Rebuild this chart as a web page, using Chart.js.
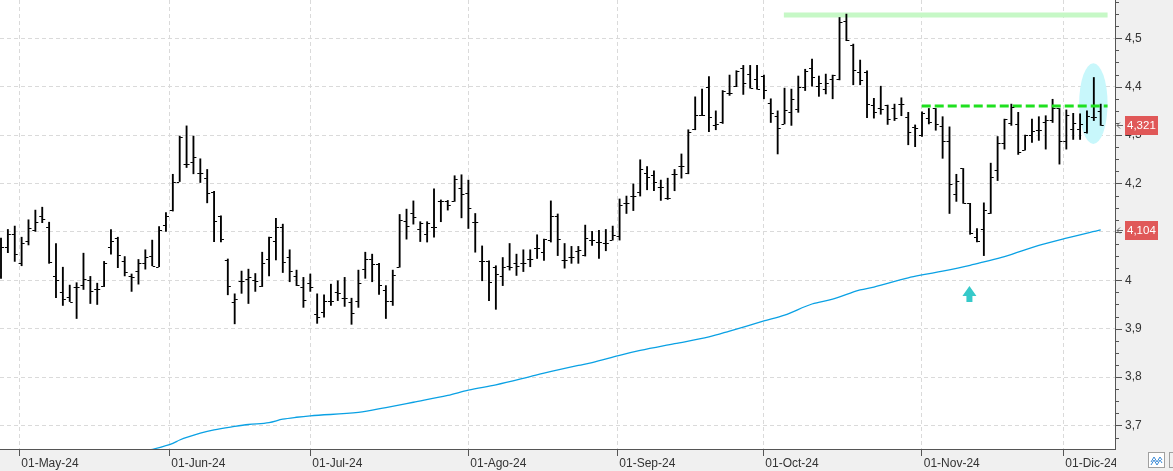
<!DOCTYPE html>
<html>
<head>
<meta charset="utf-8">
<script src="https://cdn.jsdelivr.net/npm/chart.js@4.4.1/dist/chart.umd.min.js"></script>
<style>
  html, body { margin: 0; padding: 0; background: #fff; }
  #wrap { width: 1173px; height: 471px; }
</style>
</head>
<body>
<div id="wrap"><canvas id="chart" width="1173" height="471"></canvas></div>
<script>
// daily OHLC, one entry per session (late Apr 24 -> early Dec 24)
const opens = [
  4.009, 4.068, 4.095, 4.035, 4.082, 4.104, 4.133, 4.110, 4.009, 3.975,
  3.966, 3.986, 3.990, 4.001, 3.981, 3.988, 4.068, 4.087, 4.039, 4.009,
  4.019, 4.035, 4.050, 4.028, 4.114, 4.145, 4.204, 4.240, 4.245, 4.221,
  4.211, 4.182, 4.132, 4.042, 3.956, 3.999, 4.003, 4.001, 3.989, 4.045,
  4.082, 4.110, 4.048, 4.009, 3.986, 3.994, 3.930, 3.934, 3.957, 3.975,
  3.964, 3.956, 3.957, 4.023, 4.044, 4.033, 3.980, 3.957, 4.027, 4.123,
  4.138, 4.105, 4.096, 4.110, 4.164, 4.164, 4.163, 4.190, 4.180, 4.121,
  4.039, 4.039, 4.027, 4.009, 4.030, 4.035, 4.035, 4.043, 4.066, 4.058,
  4.083, 4.133, 4.042, 4.048, 4.061, 4.052, 4.083, 4.079, 4.078, 4.083,
  4.092, 4.159, 4.174, 4.182, 4.221, 4.218, 4.192, 4.169, 4.220, 4.236,
  4.221, 4.312, 4.342, 4.399, 4.321, 4.326, 4.386, 4.401, 4.438, 4.427,
  4.416, 4.423, 4.366, 4.339, 4.323, 4.348, 4.354, 4.399, 4.438, 4.401,
  4.395, 4.415, 4.415, 4.536, 4.487, 4.431, 4.431, 4.362, 4.355, 4.362,
  4.355, 4.365, 4.338, 4.316, 4.300, 4.335, 4.355, 4.319, 4.287, 4.178,
  4.231, 4.159, 4.090, 4.105, 4.140, 4.228, 4.284, 4.325, 4.323, 4.270,
  4.300, 4.310, 4.328, 4.331, 4.355, 4.287, 4.312, 4.312, 4.306, 4.338,
  4.349
];
const highs = [
  4.087, 4.105, 4.112, 4.089, 4.125, 4.145, 4.151, 4.120, 4.076, 4.027,
  3.990, 3.995, 4.056, 4.008, 3.994, 4.039, 4.105, 4.089, 4.049, 4.013,
  4.043, 4.063, 4.083, 4.111, 4.140, 4.219, 4.298, 4.319, 4.298, 4.251,
  4.229, 4.184, 4.133, 4.044, 3.972, 4.019, 4.023, 4.014, 4.058, 4.089,
  4.128, 4.116, 4.063, 4.021, 4.006, 4.013, 3.972, 3.970, 3.992, 3.999,
  4.006, 3.963, 4.021, 4.058, 4.054, 4.035, 3.989, 4.021, 4.136, 4.147,
  4.164, 4.121, 4.121, 4.189, 4.166, 4.165, 4.216, 4.218, 4.207, 4.138,
  4.071, 4.040, 4.030, 4.047, 4.076, 4.054, 4.063, 4.063, 4.094, 4.085,
  4.164, 4.137, 4.076, 4.070, 4.070, 4.114, 4.101, 4.103, 4.105, 4.112,
  4.168, 4.174, 4.199, 4.249, 4.235, 4.226, 4.207, 4.211, 4.229, 4.261,
  4.311, 4.379, 4.395, 4.421, 4.350, 4.392, 4.424, 4.433, 4.444, 4.444,
  4.444, 4.424, 4.375, 4.350, 4.397, 4.395, 4.422, 4.436, 4.457, 4.422,
  4.426, 4.424, 4.543, 4.550, 4.488, 4.455, 4.433, 4.376, 4.401, 4.362,
  4.364, 4.377, 4.347, 4.321, 4.348, 4.355, 4.355, 4.338, 4.317, 4.219,
  4.231, 4.159, 4.107, 4.160, 4.242, 4.297, 4.333, 4.364, 4.347, 4.300,
  4.333, 4.338, 4.340, 4.374, 4.355, 4.352, 4.345, 4.344, 4.350, 4.419,
  4.364
];
const lows = [
  4.004, 4.057, 4.039, 4.030, 4.073, 4.101, 4.119, 4.035, 3.964, 3.948,
  3.956, 3.921, 3.981, 3.952, 3.950, 3.987, 4.054, 4.026, 4.009, 3.977,
  3.992, 4.023, 4.030, 4.028, 4.101, 4.143, 4.204, 4.233, 4.220, 4.202,
  4.160, 4.080, 4.079, 3.970, 3.910, 3.973, 3.952, 3.977, 3.987, 4.009,
  4.042, 4.016, 3.997, 3.989, 3.944, 3.977, 3.911, 3.924, 3.948, 3.958,
  3.946, 3.909, 3.944, 4.004, 3.997, 3.971, 3.921, 3.948, 4.027, 4.085,
  4.116, 4.080, 4.079, 4.089, 4.121, 4.145, 4.163, 4.129, 4.107, 4.058,
  3.999, 3.958, 3.940, 3.989, 4.021, 4.010, 4.018, 4.028, 4.045, 4.041,
  4.079, 4.051, 4.025, 4.035, 4.035, 4.050, 4.072, 4.045, 4.061, 4.083,
  4.083, 4.138, 4.144, 4.174, 4.187, 4.185, 4.165, 4.167, 4.185, 4.211,
  4.220, 4.311, 4.340, 4.307, 4.311, 4.324, 4.382, 4.400, 4.384, 4.397,
  4.395, 4.375, 4.326, 4.261, 4.323, 4.320, 4.347, 4.392, 4.401, 4.380,
  4.385, 4.375, 4.414, 4.495, 4.404, 4.404, 4.336, 4.335, 4.343, 4.322,
  4.330, 4.340, 4.280, 4.276, 4.297, 4.323, 4.310, 4.252, 4.138, 4.163,
  4.159, 4.095, 4.079, 4.051, 4.138, 4.206, 4.271, 4.320, 4.260, 4.269,
  4.285, 4.289, 4.271, 4.326, 4.240, 4.271, 4.291, 4.291, 4.304, 4.330,
  4.320
];
const closes = [
  4.068, 4.095, 4.054, 4.076, 4.107, 4.121, 4.127, 4.037, 4.000, 3.961,
  3.956, 3.987, 4.002, 3.977, 3.981, 4.035, 4.082, 4.052, 4.018, 4.006,
  4.035, 4.049, 4.030, 4.104, 4.132, 4.204, 4.297, 4.240, 4.255, 4.221,
  4.180, 4.123, 4.085, 3.989, 3.961, 3.999, 4.006, 3.999, 4.035, 4.089,
  4.110, 4.037, 4.019, 3.990, 3.959, 3.986, 3.925, 3.958, 3.957, 3.973,
  3.964, 3.932, 3.994, 4.044, 4.033, 3.990, 3.957, 4.010, 4.125, 4.112,
  4.130, 4.119, 4.119, 4.110, 4.164, 4.156, 4.209, 4.178, 4.149, 4.121,
  4.039, 3.996, 4.014, 4.028, 4.028, 4.030, 4.035, 4.045, 4.066, 4.085,
  4.133, 4.085, 4.042, 4.048, 4.063, 4.087, 4.083, 4.079, 4.078, 4.094,
  4.156, 4.159, 4.174, 4.229, 4.213, 4.204, 4.192, 4.169, 4.220, 4.236,
  4.307, 4.342, 4.342, 4.337, 4.323, 4.392, 4.386, 4.433, 4.407, 4.397,
  4.395, 4.393, 4.345, 4.314, 4.352, 4.375, 4.399, 4.433, 4.421, 4.407,
  4.407, 4.424, 4.534, 4.497, 4.435, 4.414, 4.365, 4.348, 4.354, 4.333,
  4.335, 4.365, 4.307, 4.314, 4.345, 4.328, 4.323, 4.287, 4.199, 4.206,
  4.160, 4.097, 4.082, 4.145, 4.214, 4.284, 4.333, 4.357, 4.266, 4.300,
  4.309, 4.310, 4.331, 4.355, 4.287, 4.342, 4.324, 4.323, 4.340, 4.338,
  4.321
];

// long moving average, read at these sessions
const maBars = [21, 25, 26, 29, 31, 34, 36, 39, 41, 43, 45, 52, 56, 60, 65, 68, 72, 77, 79, 84,
  86, 90, 93, 98, 103, 106, 111, 114, 118, 121, 125, 127, 132, 134, 137, 141, 143, 146, 151, 155, 160];
const maValues = [3.647, 3.663, 3.670, 3.684, 3.691, 3.698, 3.702, 3.706, 3.713, 3.717, 3.720, 3.727, 3.737, 3.748, 3.762, 3.773, 3.784, 3.801, 3.808, 3.824,
  3.830, 3.845, 3.855, 3.869, 3.883, 3.895, 3.916, 3.928, 3.951, 3.961, 3.980, 3.986, 4.005, 4.011, 4.019, 4.031, 4.038, 4.049, 4.072, 4.087, 4.104];

// axis ticks (month starts sit between sessions)
const monthTicks = [2.66, 24.49, 45.0, 67.99, 89.67, 110.91, 133.96, 154.56];
const monthLabels = ["01-May-24", "01-Jun-24", "01-Jul-24", "01-Ago-24", "01-Sep-24", "01-Oct-24", "01-Nov-24", "01-Dic-24"];
const priceTicks = [3.7, 3.8, 3.9, 4.0, 4.1, 4.2, 4.3, 4.4, 4.5];

// drawn-on annotations
const topLevel = [4.548, 4.548];
const topSpan = [113.9, 161];
const breakLevel = [4.36, 4.36];
const breakSpan = [133.96, 161];
const ringCenter = [158.93, 4.365];
const ringHalf = [2.07, 0.0833];
const arrowAt = [140.9, 3.988];

const xMin = -0.1455, xMax = 162.08;
const yMin = 3.6514, yMax = 4.5791;

const fmt = v => String(+v.toFixed(3)).replace('.', ',');
const font = 'Liberation Sans, Arial, sans-serif';

const backdrop = {
  id: 'backdrop',
  beforeDraw(chart) {
    const {ctx, chartArea: a} = chart;
    ctx.save();
    ctx.fillStyle = '#f0f0f0';
    ctx.fillRect(0, 0, chart.width, chart.height);
    ctx.fillStyle = '#ffffff';
    ctx.fillRect(a.left, a.top, a.right - a.left, a.bottom - a.top);
    ctx.restore();
  }
};

const ring = {
  id: 'ring',
  beforeDatasetsDraw(chart) {
    const {ctx, scales: {x, y}} = chart;
    const cx = x.getPixelForValue(ringCenter[0]);
    const cy = y.getPixelForValue(ringCenter[1]);
    const rx = x.getPixelForValue(ringCenter[0] + ringHalf[0]) - cx;
    const ry = cy - y.getPixelForValue(ringCenter[1] + ringHalf[1]);
    ctx.save();
    ctx.fillStyle = '#c8f7fb';
    ctx.beginPath();
    ctx.ellipse(cx, cy, rx, ry, 0, 0, Math.PI * 2);
    ctx.fill();
    ctx.restore();
  }
};

const ohlcTicks = {
  id: 'ohlcTicks',
  afterDatasetsDraw(chart) {
    const {ctx, scales: {x, y}} = chart;
    ctx.save();
    ctx.strokeStyle = '#000';
    ctx.lineWidth = 1;
    ctx.beginPath();
    opens.forEach((o, i) => {
      const px = x.getPixelForValue(i);
      const yo = Math.round(y.getPixelForValue(o)) + 0.5;
      const yc = Math.round(y.getPixelForValue(closes[i])) + 0.5;
      ctx.moveTo(px - 3, yo); ctx.lineTo(px - 0.5, yo);
      ctx.moveTo(px + 0.5, yc); ctx.lineTo(px + 3, yc);
    });
    ctx.stroke();
    ctx.restore();
  }
};

const decor = {
  id: 'decor',
  afterDraw(chart) {
    const {ctx, chartArea: a, scales: {x, y}} = chart;
    ctx.save();

    // cover the part of the last date label that runs under the price panel
    ctx.fillStyle = '#f0f0f0';
    ctx.fillRect(a.right + 1, a.bottom + 1, chart.width - a.right, chart.height - a.bottom);

    // price axis tick marks, minor every 0.025
    ctx.strokeStyle = '#555';
    ctx.lineWidth = 1;
    ctx.beginPath();
    for (let k = Math.ceil(yMin / 0.025); k * 0.025 <= yMax; k++) {
      const py = Math.round(y.getPixelForValue(k * 0.025)) + 0.5;
      const len = k % 4 === 0 ? 7 : 4;
      ctx.moveTo(a.right, py); ctx.lineTo(a.right + len, py);
    }
    ctx.stroke();

    // last close and last moving-average tags
    [closes[closes.length - 1], maValues[maValues.length - 1]].forEach(v => {
      const py = Math.round(y.getPixelForValue(v));
      ctx.strokeStyle = '#666';
      ctx.beginPath();
      ctx.moveTo(a.right + 2, py + 0.5); ctx.lineTo(a.right + 8, py + 0.5);
      ctx.moveTo(a.right + 5, py - 2.5); ctx.lineTo(a.right + 2, py + 0.5); ctx.lineTo(a.right + 5, py + 3.5);
      ctx.stroke();
      ctx.fillStyle = '#e05858';
      ctx.fillRect(a.right + 10, py - 9, 33, 19);
      ctx.fillStyle = '#ffffff';
      ctx.font = '11.5px ' + font;
      ctx.textBaseline = 'middle';
      ctx.textAlign = 'left';
      ctx.fillText(fmt(v), a.right + 12, py + 1);
    });

    // up arrow under the November low
    const ax = x.getPixelForValue(arrowAt[0]);
    const ay = y.getPixelForValue(arrowAt[1]);
    ctx.fillStyle = '#36c9c9';
    ctx.beginPath();
    ctx.moveTo(ax, ay);
    ctx.lineTo(ax + 7, ay + 10);
    ctx.lineTo(ax + 3, ay + 10);
    ctx.lineTo(ax + 3, ay + 16);
    ctx.lineTo(ax - 3, ay + 16);
    ctx.lineTo(ax - 3, ay + 10);
    ctx.lineTo(ax - 7, ay + 10);
    ctx.closePath();
    ctx.fill();

    // small chart-type buttons bottom right
    ctx.fillStyle = '#ffffff';
    ctx.fillRect(1148.5, 452.5, 16, 15);
    ctx.strokeStyle = '#a0a0a0';
    ctx.strokeRect(1148.5, 452.5, 16, 15);
    ctx.strokeRect(1169.5, 452.5, 10, 15);
    ctx.strokeStyle = '#3b8ad6';
    ctx.beginPath();
    ctx.moveTo(1151, 462); ctx.lineTo(1154, 457); ctx.lineTo(1157, 462); ctx.lineTo(1160, 457); ctx.lineTo(1162, 460);
    ctx.moveTo(1151, 465); ctx.lineTo(1154, 460); ctx.lineTo(1157, 465); ctx.lineTo(1160, 460); ctx.lineTo(1162, 463);
    ctx.stroke();

    ctx.restore();
  }
};

new Chart(document.getElementById('chart'), {
  type: 'bar',
  data: {
    datasets: [
      {
        type: 'line',
        data: breakSpan.map((b, i) => ({x: b, y: breakLevel[i]})),
        borderColor: '#1fe01f',
        borderWidth: 3,
        borderDash: [9, 4],
        pointRadius: 0,
        order: 0
      },
      {
        type: 'line',
        data: maBars.map((b, i) => ({x: b, y: maValues[i]})),
        borderColor: '#0aa1e4',
        borderWidth: 1.3,
        pointRadius: 0,
        cubicInterpolationMode: 'monotone',
        order: 1
      },
      {
        type: 'bar',
        data: highs.map((h, i) => ({x: i, y: [lows[i], h]})),
        backgroundColor: '#000000',
        borderWidth: 0,
        barThickness: 1.2,
        grouped: false,
        order: 2
      },
      {
        type: 'line',
        data: topSpan.map((b, i) => ({x: b, y: topLevel[i]})),
        borderColor: '#c6f8c6',
        borderWidth: 5,
        pointRadius: 0,
        order: 3
      }
    ]
  },
  options: {
    responsive: false,
    animation: false,
    devicePixelRatio: 1,
    layout: {padding: 0},
    plugins: {legend: {display: false}, tooltip: {enabled: false}},
    scales: {
      x: {
        type: 'linear',
        min: xMin,
        max: xMax,
        offset: false,
        afterBuildTicks: s => { s.ticks = monthTicks.map(v => ({value: v})); },
        afterFit: s => { s.height = 22; s.paddingLeft = 0; s.paddingRight = 0; },
        grid: {color: '#dadada', offset: false, drawTicks: true, tickLength: 7, tickColor: '#555', tickWidth: 1},
        border: {color: '#555', width: 1, dash: [4, 3]},
        ticks: {
          autoSkip: false, maxRotation: 0, minRotation: 0, align: 'start', labelOffset: 2, padding: 0,
          color: '#333', font: {family: font, size: 12},
          callback: (v, i) => monthLabels[i]
        }
      },
      y: {
        type: 'linear',
        position: 'right',
        min: yMin,
        max: yMax,
        afterBuildTicks: s => { s.ticks = priceTicks.map(v => ({value: v})); },
        afterFit: s => { s.width = 58; s.paddingTop = 0; s.paddingBottom = 0; },
        grid: {color: '#dadada', drawTicks: false},
        border: {color: '#555', width: 1, dash: [4, 3]},
        ticks: {padding: 10, color: '#333', font: {family: font, size: 12}, callback: v => fmt(v)}
      }
    }
  },
  plugins: [backdrop, ring, ohlcTicks, decor]
});
</script>
</body>
</html>
